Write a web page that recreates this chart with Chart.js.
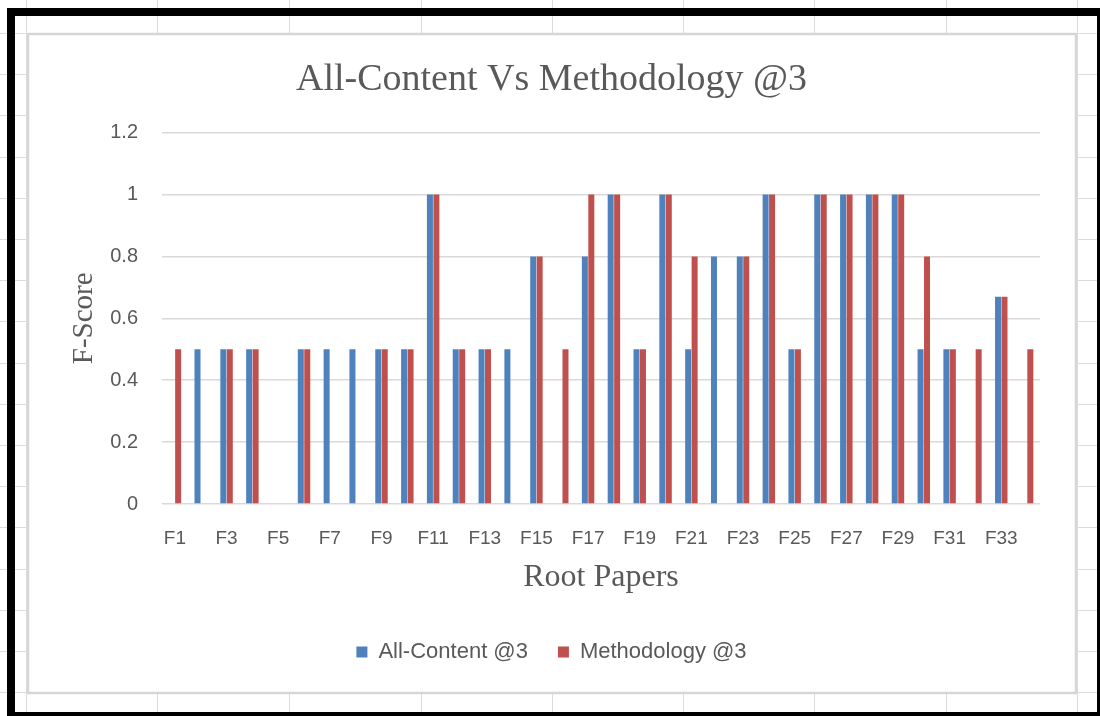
<!DOCTYPE html>
<html lang="en">
<head>
	<meta charset="UTF-8">
	<title>All-Content Vs Methodology @3</title>
	<script src="https://cdn.jsdelivr.net/npm/chart.js@4.4.0/dist/chart.umd.min.js"></script>
	<style>
		* {
			box-sizing: border-box;
		}

		html, body {
			margin: 0;
			padding: 0;
			background: #fff;
			overflow: hidden;
		}

		#canvasContainer {
			width: 1100px;
			height: 716px;
		}
	</style>
</head>

<body>
	<div id="canvasContainer">
		<canvas id="chart"></canvas>
	</div>

	<script>
		const papers = ["F1", "F2", "F3", "F4", "F5", "F6", "F7", "F8", "F9", "F10", "F11", "F12",
			"F13", "F14", "F15", "F16", "F17", "F18", "F19", "F20", "F21", "F22", "F23", "F24",
			"F25", "F26", "F27", "F28", "F29", "F30", "F31", "F32", "F33", "F34"];

		const allContent = [0, 0.5, 0.5, 0.5, 0, 0.5, 0.5, 0.5, 0.5, 0.5, 1, 0.5,
			0.5, 0.5, 0.8, 0, 0.8, 1, 0.5, 1, 0.5, 0.8, 0.8, 1,
			0.5, 1, 1, 1, 1, 0.5, 0.5, 0, 0.67, 0];

		const methodology = [0.5, 0, 0.5, 0.5, 0, 0.5, 0, 0, 0.5, 0.5, 1, 0.5,
			0.5, 0, 0.8, 0.5, 1, 1, 0.5, 1, 0.8, 0, 0.8, 1,
			0.5, 1, 1, 1, 1, 0.8, 0.5, 0.5, 0.67, 0.5];

		const yTicks = [0, 0.2, 0.4, 0.6, 0.8, 1, 1.2];

		const textColor = "#595959";
		const sansFont = "'Liberation Sans', Arial, sans-serif";
		const serifFont = "'Liberation Serif', 'Times New Roman', serif";

		// spreadsheet cells, chart box and the thick black frame around the screenshot
		const sheetBackground = {
			id: "sheetBackground",
			beforeDraw(chart) {
				const c = chart.ctx;
				c.save();
				c.fillStyle = "#fff";
				c.fillRect(0, 0, chart.width, chart.height);

				c.strokeStyle = "#dcdcdc";
				c.lineWidth = 1;
				const cols = [26, 157, 289, 421, 552, 683, 814, 946, 1077];
				for (const x of cols) {
					c.beginPath();
					c.moveTo(x + 0.5, 0);
					c.lineTo(x + 0.5, chart.height);
					c.stroke();
				}
				for (let y = 33; y < chart.height; y += 41.2) {
					c.beginPath();
					c.moveTo(0, Math.round(y) + 0.5);
					c.lineTo(chart.width, Math.round(y) + 0.5);
					c.stroke();
				}

				c.fillStyle = "#fff";
				c.fillRect(28, 34, 1048, 659);
				c.strokeStyle = "#d6d6d6";
				c.lineWidth = 2.5;
				c.strokeRect(28, 34, 1048, 659);

				c.fillStyle = "#000";
				c.fillRect(7, 8, 8, 708);
				c.fillRect(7, 8, 1093, 8);
				c.fillRect(1097, 8, 3, 708);
				c.fillRect(7, 712, 1093, 4);
				c.restore();
			}
		};

		const ctx = document.getElementById("chart").getContext("2d");

		const config = {
			type: "bar",
			data: {
				labels: papers,
				datasets: [
					{
						label: "All-Content @3",
						data: allContent,
						backgroundColor: "#4f81bd",
						categoryPercentage: 0.5,
						barPercentage: 0.93
					},
					{
						label: "Methodology @3",
						data: methodology,
						backgroundColor: "#c0504d",
						categoryPercentage: 0.5,
						barPercentage: 0.93
					}
				]
			},
			plugins: [sheetBackground],
			options: {
				responsive: true,
				maintainAspectRatio: false,
				animation: false,
				layout: {
					padding: {
						top: 34,
						right: 60,
						bottom: 43,
						left: 63
					}
				},
				plugins: {
					title: {
						display: true,
						text: "All-Content Vs Methodology @3",
						color: textColor,
						font: { family: serifFont, size: 38, weight: "normal" },
						padding: { top: 23, bottom: 30 }
					},
					legend: {
						position: "bottom",
						labels: {
							color: textColor,
							font: { family: sansFont, size: 22 },
							boxWidth: 11,
							boxHeight: 11,
							padding: 30
						}
					},
					tooltip: { enabled: false }
				},
				scales: {
					x: {
						grid: { display: false },
						border: { display: false },
						ticks: {
							color: textColor,
							font: { family: sansFont, size: 19 },
							padding: 15,
							maxRotation: 0,
							autoSkip: false,
							callback: (val, i) => (i % 2 === 0 ? papers[i] : "")
						},
						title: {
							display: true,
							text: "Root Papers",
							color: textColor,
							font: { family: serifFont, size: 32 },
							padding: { top: 11, bottom: 14 }
						},
						afterFit: scale => { scale.height = 107; }
					},
					y: {
						min: 0,
						max: 1.2,
						afterBuildTicks: scale => { scale.ticks = yTicks.map(v => ({ value: v })); },
						grid: { color: "#d9d9d9", lineWidth: 1.5, drawTicks: false },
						border: { display: false },
						ticks: {
							color: textColor,
							font: { family: sansFont, size: 20 },
							padding: 24,
							callback: v => String(v)
						},
						title: {
							display: true,
							text: "F-Score",
							color: textColor,
							font: { family: serifFont, size: 29 },
							padding: { top: 4, bottom: 4 }
						},
						afterFit: scale => { scale.width = 99; }
					}
				}
			}
		};

		const chart = new Chart(ctx, config);
	</script>
</body>

</html>
